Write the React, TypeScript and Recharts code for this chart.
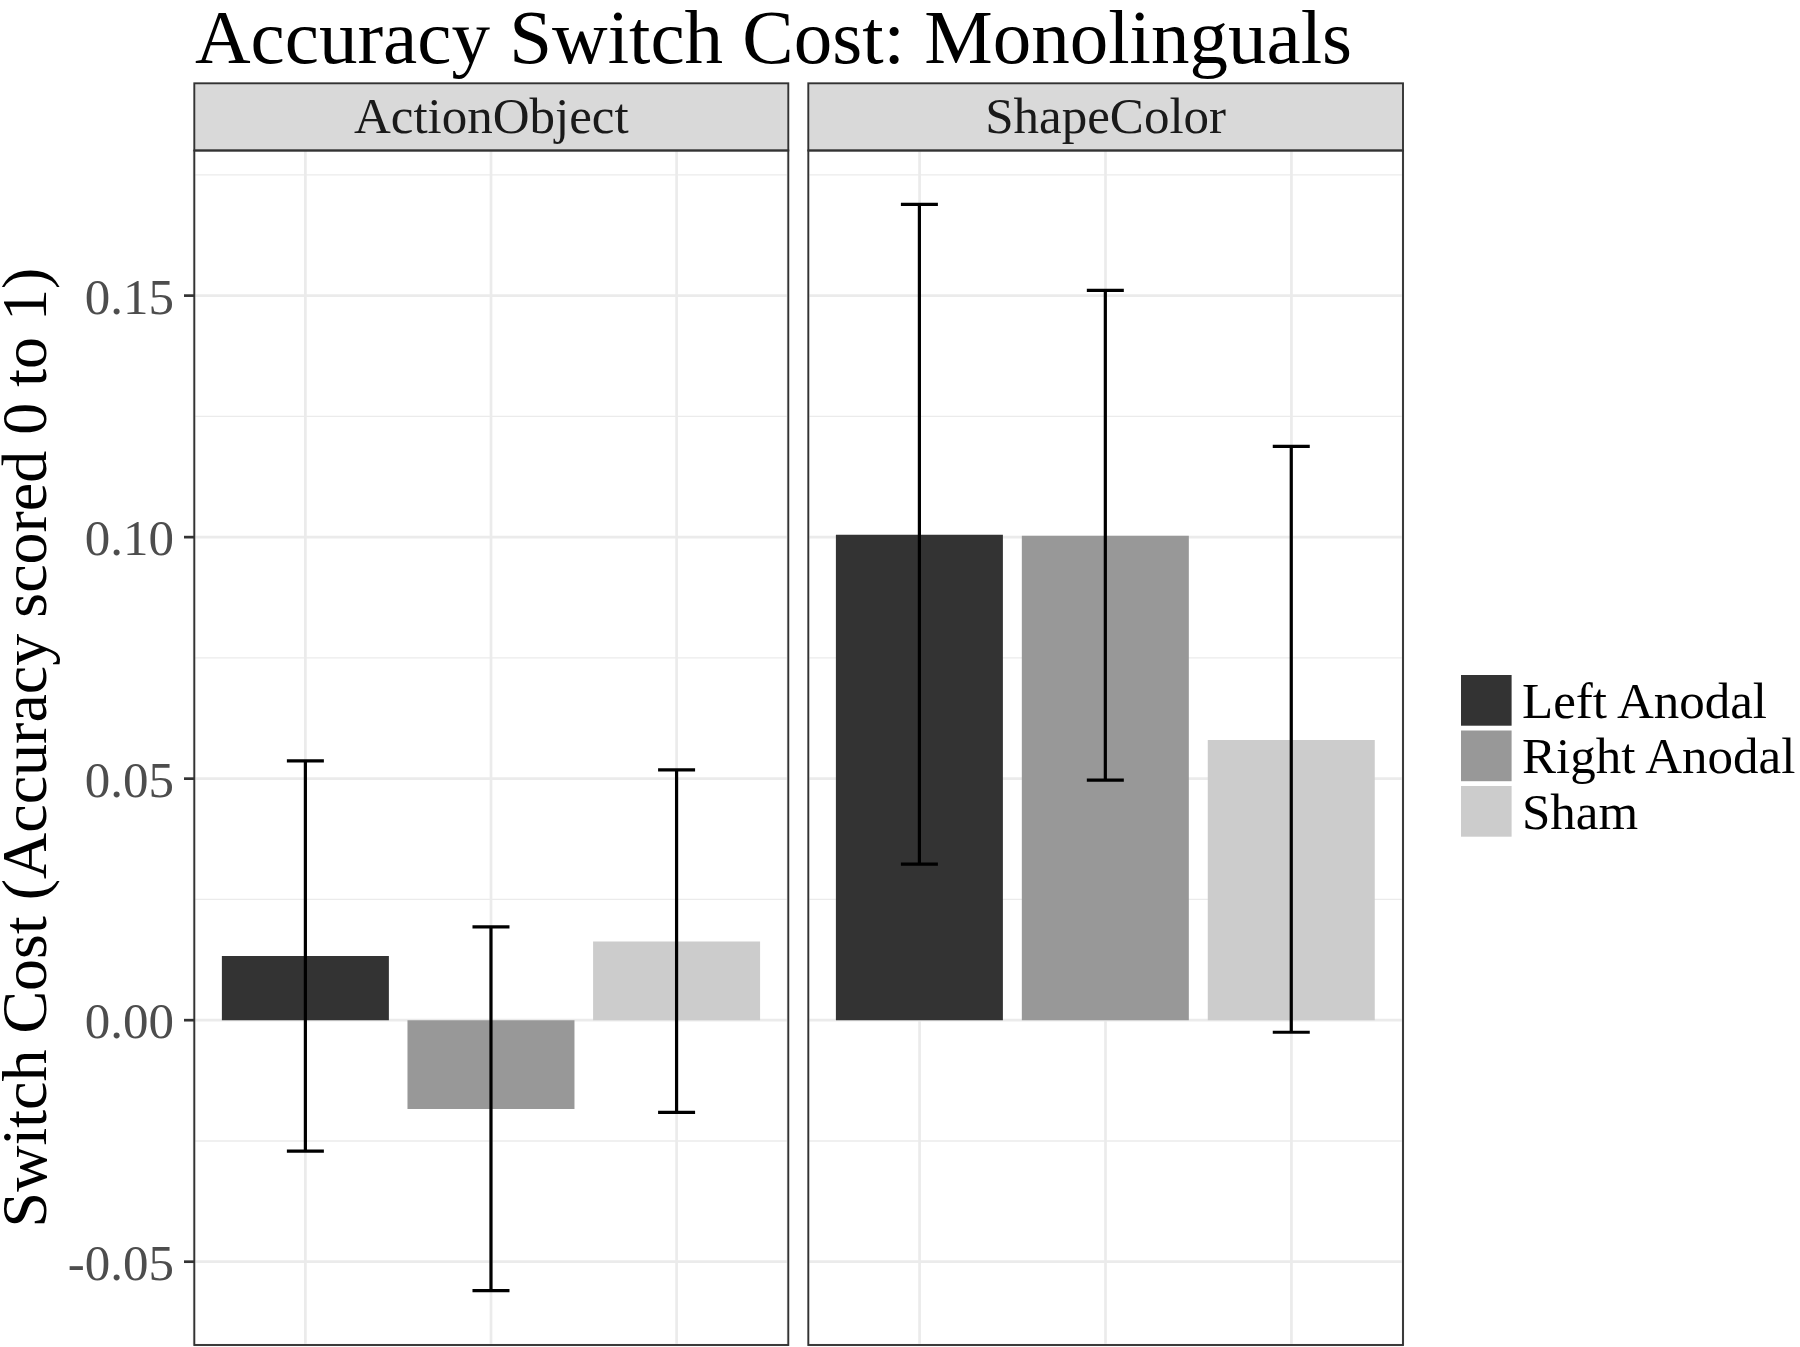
import React from "react";
import {
  BarChart,
  Bar,
  XAxis,
  YAxis,
  CartesianGrid,
  Cell,
  ErrorBar,
  Legend,
} from "recharts";

const FONT = '"Liberation Serif", "Times New Roman", serif';

// conditions and their grey fills
const CONDITIONS = ["Left Anodal", "Right Anodal", "Sham"];
const FILLS = ["#333333", "#989898", "#CCCCCC"];
const TASKS = ["ActionObject", "ShapeColor"];

// mean switch cost and error bar ends, per task
const ACTION_MEAN = [0.0133, -0.0184, 0.0163];
const ACTION_LOW = [-0.0271, -0.056, -0.0191];
const ACTION_HIGH = [0.0537, 0.0193, 0.0518];
const SHAPE_MEAN = [0.1005, 0.1003, 0.058];
const SHAPE_LOW = [0.0323, 0.0497, -0.0025];
const SHAPE_HIGH = [0.1689, 0.1511, 0.1188];

const Y_TICKS = [-0.05, 0, 0.05, 0.1, 0.15];
const Y_MINOR = [-0.025, 0.025, 0.075, 0.125, 0.175];

const TITLE = "Accuracy Switch Cost: Monolinguals";
const Y_TITLE = "Switch Cost (Accuracy scored 0 to 1)";

const buildRows = (mean: number[], low: number[], high: number[]) =>
  CONDITIONS.map((name, i) => ({
    name,
    mean: mean[i],
    err: [mean[i] - low[i], high[i] - mean[i]],
  }));

const actionRows = buildRows(ACTION_MEAN, ACTION_LOW, ACTION_HIGH);
const shapeRows = buildRows(SHAPE_MEAN, SHAPE_LOW, SHAPE_HIGH);

// 5% expansion like ggplot
const lowest = Math.min(...ACTION_LOW, ...SHAPE_LOW);
const highest = Math.max(...ACTION_HIGH, ...SHAPE_HIGH);
const pad = (highest - lowest) * 0.05;
const Y_DOMAIN: [number, number] = [lowest - pad, highest + pad];

const H = 1347;
const TOP = 150;
const BOTTOM = 2;
const X_PAD = 18.6;

const renderYTitle = (props: any) => {
  const vb = props.viewBox || { y: TOP, height: H - TOP - BOTTOM };
  const cy = vb.y + vb.height / 2;
  return (
    <text
      x={46}
      y={cy}
      transform={`rotate(-90 46 ${cy})`}
      textAnchor="middle"
      fontFamily={FONT}
      fontSize={64}
      fill="#000000"
    >
      {Y_TITLE}
    </text>
  );
};

const renderLegend = () => (
  <svg width={338} height={170} style={{ overflow: "visible", display: "block" }}>
    {CONDITIONS.map((c, i) => (
      <g key={c}>
        <rect x={0} y={i * 55.5} width={50.6} height={50.7} fill={FILLS[i]} />
        <text x={61} y={i * 55.5 + 42.7} fontFamily={FONT} fontSize={51} fill="#000000">
          {c}
        </text>
      </g>
    ))}
  </svg>
);

type Row = { name: string; mean: number; err: number[] };

const Panel = ({
  rows,
  left,
  width,
  marginRight,
  first,
}: {
  rows: Row[];
  left: number;
  width: number;
  marginRight: number;
  first: boolean;
}) => (
  <div style={{ position: "absolute", left, top: 0 }}>
    <BarChart
      width={width}
      height={H}
      data={rows}
      margin={{ top: TOP, right: marginRight, bottom: BOTTOM, left: 0 }}
      barCategoryGap="5%"
    >
      {/* minor grid first, then major */}
      <CartesianGrid
        stroke="#EBEBEB"
        strokeWidth={1.4}
        vertical={false}
        horizontalValues={Y_MINOR}
      />
      <CartesianGrid stroke="#EBEBEB" strokeWidth={2.7} />
      <XAxis dataKey="name" hide padding={{ left: X_PAD, right: X_PAD }} />
      <YAxis
        type="number"
        domain={Y_DOMAIN}
        allowDataOverflow
        ticks={Y_TICKS}
        interval={0}
        hide={!first}
        width={first ? 194 : 0}
        axisLine={false}
        tickSize={10}
        tickMargin={10}
        tickLine={{ stroke: "#333333", strokeWidth: 2.7 }}
        tick={{ fill: "#4D4D4D", fontSize: 51, fontFamily: FONT }}
        tickFormatter={(v: number) => v.toFixed(2)}
        label={first ? { content: renderYTitle } : undefined}
      />
      <Bar dataKey="mean" isAnimationActive={false}>
        {rows.map((r, i) => (
          <Cell key={r.name} fill={FILLS[i]} />
        ))}
        <ErrorBar dataKey="err" width={18.5} stroke="#000000" strokeWidth={3.2} />
      </Bar>
      {!first && (
        <Legend
          layout="vertical"
          align="center"
          verticalAlign="middle"
          content={renderLegend}
          wrapperStyle={{ left: 1460.7 - left, top: 675, width: 338, height: 170 }}
        />
      )}
    </BarChart>
  </div>
);

const PANELS = [
  { x: 194.3, w: 594 },
  { x: 808.3, w: 594.7 },
];

export default function App() {
  return (
    <div style={{ position: "absolute", left: 0, top: 0, width: 1800, height: H, background: "#fff" }}>
      <Panel rows={actionRows} left={0} width={789} marginRight={1} first />
      <Panel rows={shapeRows} left={808} width={992} marginRight={397} first={false} />
      <svg
        width={1800}
        height={H}
        style={{ position: "absolute", left: 0, top: 0, pointerEvents: "none" }}
      >
        <text x={195} y={63} fontFamily={FONT} fontSize={77} fill="#000000">
          {TITLE}
        </text>
        {PANELS.map((p, i) => (
          <g key={TASKS[i]}>
            <rect x={p.x} y={83.3} width={p.w} height={67.2} fill="#D9D9D9" stroke="#333333" strokeWidth={1.9} />
            <text
              x={p.x + p.w / 2}
              y={132.5}
              textAnchor="middle"
              fontFamily={FONT}
              fontSize={51}
              fill="#1A1A1A"
            >
              {TASKS[i]}
            </text>
            <rect x={p.x} y={150.5} width={p.w} height={1194.5} fill="none" stroke="#333333" strokeWidth={1.9} />
          </g>
        ))}
      </svg>
    </div>
  );
}
